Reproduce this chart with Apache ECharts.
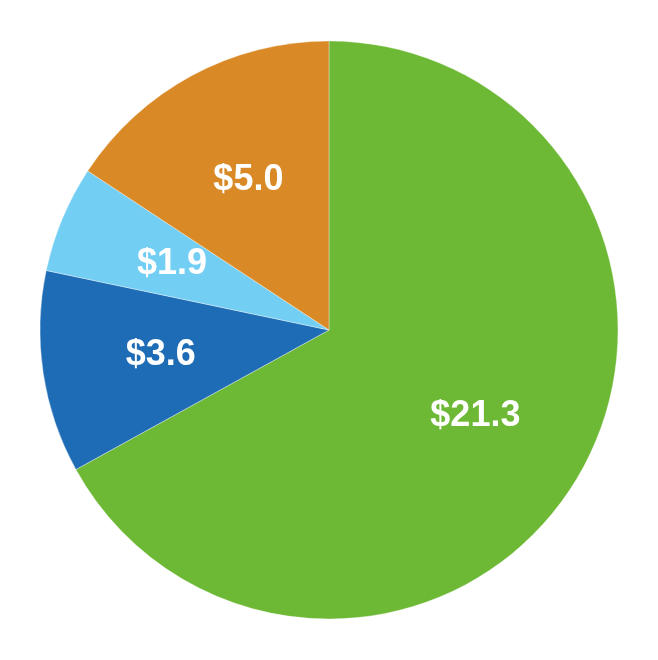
<!DOCTYPE html>
<html>
<head>
<meta charset="utf-8">
<script src="https://cdn.jsdelivr.net/npm/echarts@6/dist/echarts.min.js"></script>
<style>
  html, body { margin: 0; padding: 0; background: #fff; }
  #chart { width: 658px; height: 660px; }
</style>
</head>
<body>
<div id="chart"></div>
<script>
// slice data, clockwise from 12 o'clock
const names = ['A', 'B', 'C', 'D'];
const values = [21.3, 3.6, 1.9, 5.0];
const colors = ['#6db834', '#1e6cb5', '#73cef4', '#d98a26'];

const chart = echarts.init(document.getElementById('chart'));

const slices = values.map((v, i) => ({ name: names[i], value: v, itemStyle: { color: colors[i] } }));

chart.setOption({
  animation: false,
  series: [
    {
      type: 'pie',
      center: [329, 330],
      radius: 289,
      startAngle: 90,
      clockwise: true,
      label: { show: false },
      labelLine: { show: false },
      itemStyle: { borderColor: 'rgba(255,255,255,0.6)', borderWidth: 0.6 },
      data: slices
    },
    {
      // invisible bigger pie, only here so labels sit a bit further out
      type: 'pie',
      center: [329, 330],
      radius: 334,
      startAngle: 90,
      clockwise: true,
      silent: true,
      z: 5,
      itemStyle: { color: 'transparent' },
      label: {
        show: true,
        position: 'inside',
        formatter: p => '$' + p.value.toFixed(1),
        color: '#fff',
        fontSize: 36,
        fontWeight: 'bold',
        fontFamily: '"Liberation Sans Narrow", "Arial Narrow", "Liberation Sans", sans-serif'
      },
      labelLine: { show: false },
      data: values.map((v, i) => ({ name: names[i], value: v }))
    }
  ]
});
</script>
</body>
</html>
